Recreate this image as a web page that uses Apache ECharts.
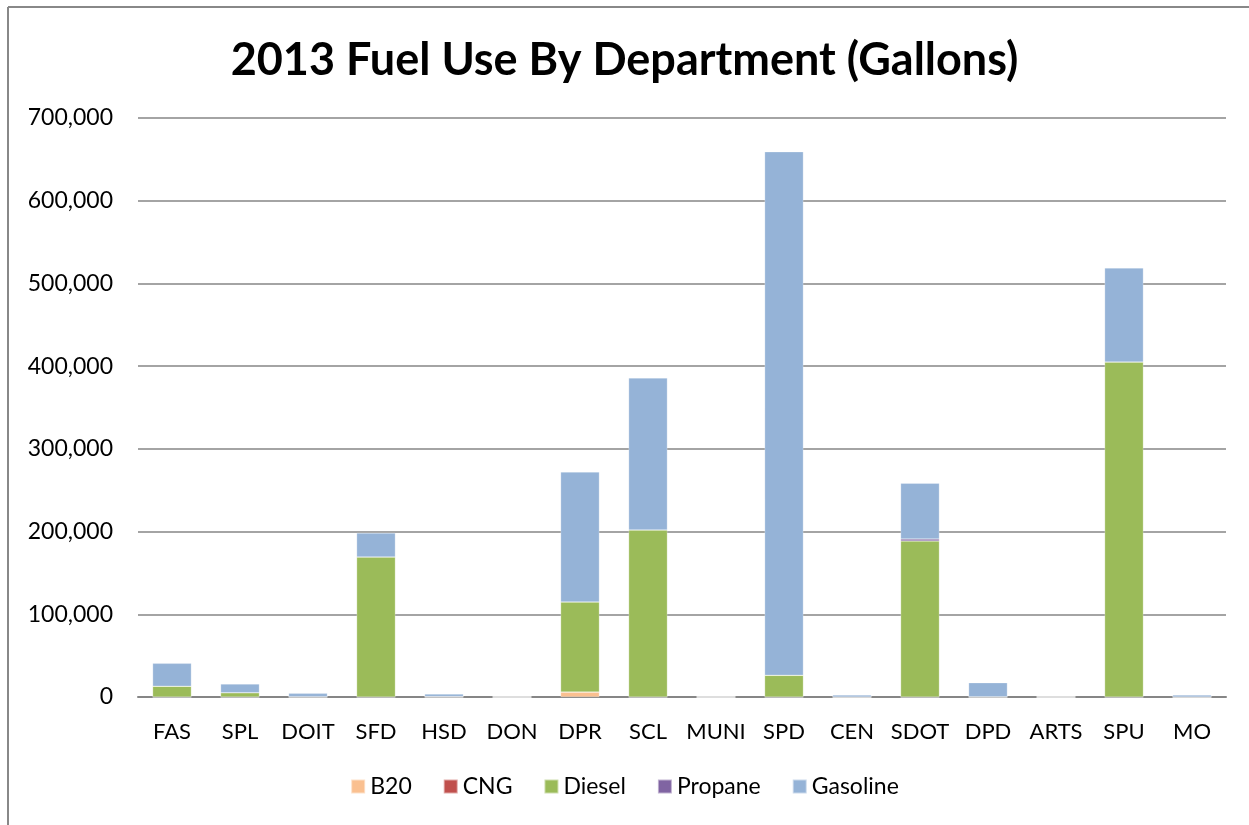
<!DOCTYPE html>
<html>
<head>
<meta charset="utf-8">
<script src="https://cdn.jsdelivr.net/npm/echarts@6/dist/echarts.min.js"></script>
<style>
  html, body { margin: 0; padding: 0; background: #fff; }
  #chart { width: 1249px; height: 825px; }
</style>
</head>
<body>
<div id="chart"></div>
<script>
// departments along the x axis
const departments = ["FAS", "SPL", "DOIT", "SFD", "HSD", "DON", "DPR", "SCL", "MUNI", "SPD", "CEN", "SDOT", "DPD", "ARTS", "SPU", "MO"];

// gallons per fuel type
const b20      = [0, 0, 0, 0, 0, 0, 6000, 0, 0, 0, 0, 0, 0, 0, 0, 0];
const cng      = [0, 0, 0, 0, 0, 0, 0, 0, 0, 0, 0, 0, 0, 0, 0, 0];
const diesel   = [13000, 5200, 400, 169300, 500, 0, 109000, 202000, 0, 26200, 0, 188600, 300, 0, 405000, 0];
const propane  = [0, 0, 0, 0, 0, 0, 0, 0, 0, 0, 0, 2400, 0, 0, 0, 0];
const gasoline = [27700, 10500, 4000, 29000, 3100, 0, 157000, 183700, 0, 633000, 2400, 67400, 17000, 0, 113700, 2400];

const yTicks = [0, 100000, 200000, 300000, 400000, 500000, 600000, 700000];

const font = "Lato, 'Liberation Sans', sans-serif";
const chart = echarts.init(document.getElementById("chart"));

function bar(name, data, color) {
  return {
    name: name,
    type: "bar",
    stack: "fuel",
    data: data,
    barCategoryGap: "43%",
    itemStyle: { color: color, borderColor: "rgba(255,255,255,0.5)", borderWidth: 0.5 },
  };
}

chart.setOption({
  animation: false,
  backgroundColor: "#fff",
  title: {
    text: "2013 Fuel Use By Department (Gallons)",
    left: "center",
    top: 33,
    textStyle: { fontFamily: font, fontWeight: "bold", fontSize: 45, color: "#000" },
  },
  legend: {
    bottom: 22,
    left: "center",
    itemWidth: 14,
    itemHeight: 14,
    itemGap: 31,
    icon: "rect",
    textStyle: { fontFamily: font, fontSize: 23, color: "#000" },
    data: ["B20", "CNG", "Diesel", "Propane", "Gasoline"],
  },
  grid: { left: 138, right: 23, top: 118, bottom: 128, containLabel: false },
  xAxis: {
    type: "category",
    data: departments,
    axisLine: { lineStyle: { color: "#868686", width: 2 } },
    axisTick: { show: false },
    axisLabel: { fontFamily: font, fontSize: 22, color: "#000", margin: 24, interval: 0 },
  },
  yAxis: {
    type: "value",
    min: yTicks[0],
    max: yTicks[yTicks.length - 1],
    interval: 100000,
    axisLine: { show: false },
    axisTick: { show: false },
    splitLine: { lineStyle: { color: "#868686", width: 1.5 } },
    axisLabel: {
      fontFamily: font, fontSize: 23, color: "#000", margin: 25,
      formatter: (v) => v.toLocaleString("en-US"),
    },
  },
  series: [
    bar("B20", b20, "#FAC090"),
    bar("CNG", cng, "#C0504D"),
    bar("Diesel", diesel, "#9BBB59"),
    bar("Propane", propane, "#8064A2"),
    bar("Gasoline", gasoline, "#95B3D7"),
  ],
  graphic: [
    { type: "line", shape: { x1: 8, y1: 7, x2: 1249, y2: 7 }, style: { stroke: "#888", lineWidth: 2 } },
    { type: "line", shape: { x1: 8, y1: 7, x2: 8, y2: 825 }, style: { stroke: "#888", lineWidth: 2 } },
  ],
});
</script>
</body>
</html>
